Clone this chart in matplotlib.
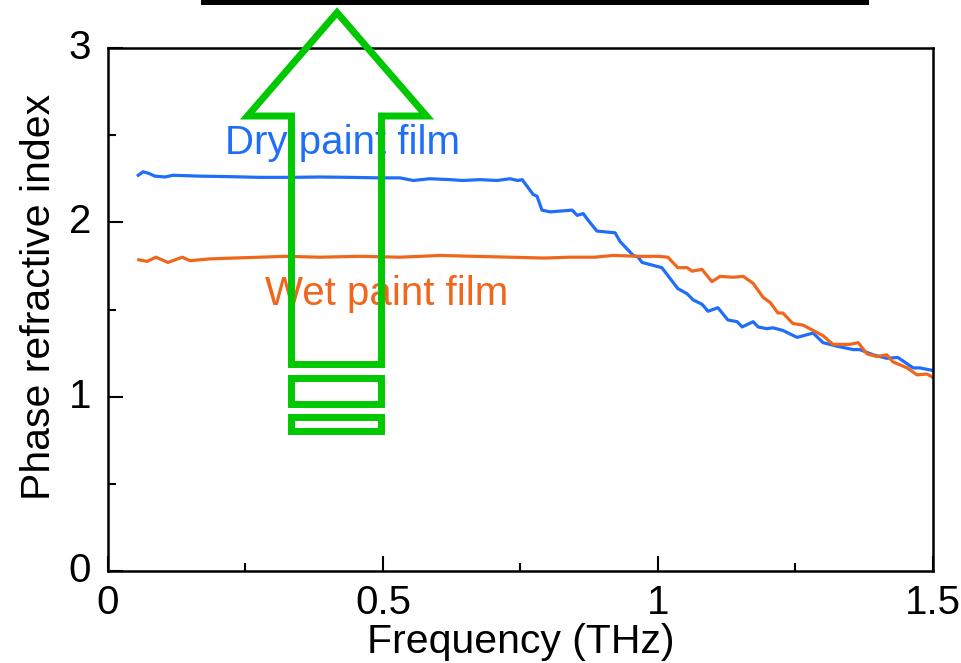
import numpy as np
import matplotlib.pyplot as plt
import matplotlib.transforms as mtransforms
from matplotlib.patches import Polygon, Rectangle
from matplotlib.ticker import MultipleLocator

plt.rcParams['font.family'] = ['Liberation Sans', 'DejaVu Sans']

# refractive index vs frequency
dry_freq = [0.055, 0.064, 0.075, 0.085, 0.104, 0.118, 0.167, 0.222, 0.276, 0.331,
            0.385, 0.44, 0.495, 0.531, 0.555, 0.585, 0.622, 0.645, 0.676, 0.707,
            0.731, 0.745, 0.753, 0.773, 0.78, 0.789, 0.804, 0.844, 0.853, 0.864,
            0.876, 0.889, 0.922, 0.931, 0.955, 0.964, 0.971, 1.007, 1.036, 1.053,
            1.064, 1.08, 1.091, 1.109, 1.127, 1.144, 1.153, 1.173, 1.182, 1.198,
            1.209, 1.227, 1.253, 1.282, 1.30, 1.325, 1.355, 1.367, 1.391, 1.416,
            1.436, 1.464, 1.476, 1.50]
dry_n = [2.27, 2.29, 2.28, 2.265, 2.26, 2.27, 2.265, 2.262, 2.258, 2.258,
         2.26, 2.258, 2.255, 2.255, 2.24, 2.25, 2.245, 2.24, 2.245, 2.24,
         2.25, 2.24, 2.245, 2.16, 2.15, 2.07, 2.06, 2.07, 2.04, 2.05,
         2.0, 1.95, 1.94, 1.89, 1.81, 1.80, 1.77, 1.74, 1.62, 1.59,
         1.555, 1.53, 1.49, 1.51, 1.44, 1.43, 1.40, 1.43, 1.40, 1.39,
         1.395, 1.38, 1.34, 1.365, 1.31, 1.29, 1.27, 1.27, 1.24, 1.22,
         1.225, 1.165, 1.165, 1.15]

wet_freq = [0.056, 0.071, 0.087, 0.109, 0.135, 0.149, 0.184, 0.227, 0.276, 0.322,
            0.385, 0.458, 0.531, 0.604, 0.667, 0.731, 0.793, 0.84, 0.885, 0.918,
            0.967, 1.0, 1.018, 1.036, 1.053, 1.062, 1.08, 1.098, 1.113, 1.136,
            1.155, 1.173, 1.191, 1.204, 1.218, 1.227, 1.245, 1.264, 1.282, 1.30,
            1.318, 1.349, 1.364, 1.38, 1.398, 1.416, 1.427, 1.453, 1.471, 1.489, 1.50]
wet_n = [1.785, 1.776, 1.80, 1.77, 1.80, 1.78, 1.79, 1.795, 1.80, 1.805,
         1.80, 1.805, 1.80, 1.81, 1.805, 1.80, 1.795, 1.80, 1.80, 1.81,
         1.805, 1.805, 1.80, 1.74, 1.74, 1.72, 1.73, 1.66, 1.69, 1.685,
         1.69, 1.65, 1.57, 1.54, 1.48, 1.48, 1.42, 1.41, 1.38, 1.35,
         1.30, 1.30, 1.31, 1.245, 1.23, 1.24, 1.20, 1.165, 1.125, 1.13, 1.11]

blue = '#1f6ef8'
orange = '#f0661c'
green = '#00c800'

fig = plt.figure(figsize=(9.62, 6.63), dpi=100)
ax = fig.add_axes([108 / 962, 1 - 571 / 663, 825 / 962, 523 / 663])

ax.plot(dry_freq, dry_n, color=blue, lw=2.3)
ax.plot(wet_freq, wet_n, color=orange, lw=2.3)

ax.text(0.213, 2.392, 'Dry paint film', color=blue, fontsize=29, ha='left', va='baseline')
ax.text(0.285, 1.526, 'Wet paint film', color=orange, fontsize=29, ha='left', va='baseline')

ax.set_xlim(0, 1.5)
ax.set_ylim(0, 3)
ax.xaxis.set_minor_locator(MultipleLocator(0.25))
ax.yaxis.set_major_locator(MultipleLocator(1))
ax.yaxis.set_minor_locator(MultipleLocator(0.5))
ax.set_xticks([0, 0.5, 1, 1.5])
ax.set_xticklabels(['0', '0.5', '1', '1.5'])
ax.tick_params(which='both', direction='in', top=False, right=False, width=1.5, labelsize=29)
ax.tick_params(which='major', length=11)
ax.tick_params(which='minor', length=5.5)
ax.tick_params(axis='y', pad=12)
ax.tick_params(axis='x', pad=9)
for s in ax.spines.values():
    s.set_linewidth(1.8)

# y labels sit a little high
shift = mtransforms.ScaledTranslation(0, 4 / 100, fig.dpi_scale_trans)
for lab in ax.get_yticklabels():
    lab.set_transform(lab.get_transform() + shift)

ax.set_xlabel('Frequency (THz)', fontsize=29.5, labelpad=1)
ax.set_ylabel('Phase refractive index', fontsize=29.5, labelpad=8)
ax.yaxis.label.set_y(0.524)

# overlay in pixel coordinates for the arrow and the bar on top
ov = fig.add_axes([0, 0, 1, 1], zorder=5)
ov.set_xlim(0, 962)
ov.set_ylim(663, 0)
ov.axis('off')
ov.patch.set_alpha(0)

ov.add_patch(Rectangle((201, 0), 668, 5, color='black', lw=0))

arrow = [(247.5, 116), (337, 12.6), (426.5, 116), (381.5, 116), (381.5, 364.5),
         (291.5, 364.5), (291.5, 116)]
ov.add_patch(Polygon(arrow, closed=True, fill=False, edgecolor=green, lw=5, joinstyle='miter'))
ov.add_patch(Rectangle((291.5, 377.5), 90, 26, fill=False, edgecolor=green, lw=5, joinstyle='miter'))
ov.add_patch(Rectangle((291.5, 416.5), 90, 14, fill=False, edgecolor=green, lw=5, joinstyle='miter'))

fig.savefig('out.png', dpi=100)
